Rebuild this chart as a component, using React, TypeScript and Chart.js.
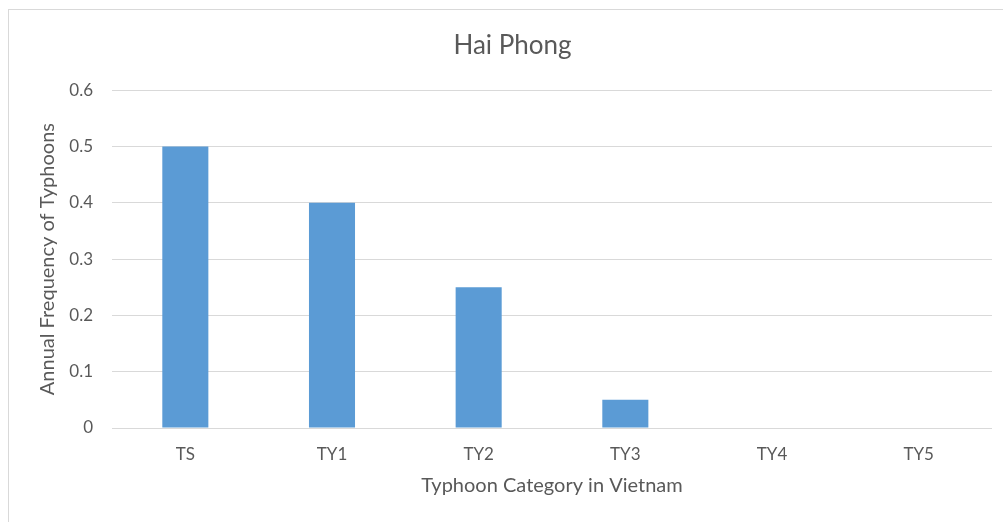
import React, { useEffect, useRef } from "react";
import { Chart, registerables } from "chart.js";

Chart.register(...registerables);

const categories = ["TS", "TY1", "TY2", "TY3", "TY4", "TY5"];
const frequencies = [0.5, 0.4, 0.25, 0.05, 0, 0];

const TEXT = "#595959";
const GRID = "#d9d9d9";
const BAR = "#5b9bd5";
const FONT = "Lato, 'Open Sans', sans-serif";

export default function App() {
  const canvasRef = useRef<HTMLCanvasElement | null>(null);

  useEffect(() => {
    if (!canvasRef.current) return;
    const chart = new Chart(canvasRef.current, {
      type: "bar",
      data: {
        labels: categories,
        datasets: [
          {
            label: "Annual Frequency",
            data: frequencies,
            backgroundColor: BAR,
            borderWidth: 0,
            categoryPercentage: 1,
            barPercentage: 0.314,
          },
        ],
      },
      options: {
        animation: false,
        responsive: false,
        maintainAspectRatio: false,
        layout: { padding: { left: 33, right: 11, top: 0, bottom: 0 } },
        plugins: {
          legend: { display: false },
          tooltip: { enabled: false },
          title: {
            display: true,
            text: "Hai Phong",
            color: TEXT,
            font: { family: FONT, size: 26, weight: "normal" },
            padding: { top: 30, bottom: 29 },
          },
        },
        scales: {
          x: {
            afterFit: (scale: any) => {
              scale.height = 94;
            },
            grid: { display: false, drawTicks: false },
            border: { display: false },
            ticks: {
              color: TEXT,
              padding: 16,
              font: { family: FONT, size: 17 },
            },
            title: {
              display: true,
              text: "Typhoon Category in Vietnam",
              color: TEXT,
              font: { family: FONT, size: 20 },
              padding: { top: 10, bottom: 24 },
            },
          },
          y: {
            min: 0,
            max: 0.6,
            afterFit: (scale: any) => {
              scale.width = 79;
            },
            grid: { color: GRID, drawTicks: false, lineWidth: 1 },
            border: { display: false },
            ticks: {
              stepSize: 0.1,
              color: TEXT,
              padding: 19,
              font: { family: FONT, size: 17 },
            },
            title: {
              display: true,
              text: "Annual Frequency of Typhoons",
              color: TEXT,
              font: { family: FONT, size: 20 },
              padding: { top: 3, bottom: 0 },
            },
          },
        },
      },
    });
    return () => chart.destroy();
  }, []);

  return (
    <div style={{ position: "absolute", left: 0, top: 0, width: 1003, height: 522, background: "#fff" }}>
      <div
        style={{
          position: "absolute",
          left: 8,
          top: 9,
          right: 0,
          bottom: 0,
          borderLeft: `1px solid ${GRID}`,
          borderTop: `1px solid ${GRID}`,
        }}
      />
      <canvas
        ref={canvasRef}
        width={1003}
        height={522}
        style={{ position: "absolute", left: 0, top: 0, width: 1003, height: 522 }}
      />
    </div>
  );
}
